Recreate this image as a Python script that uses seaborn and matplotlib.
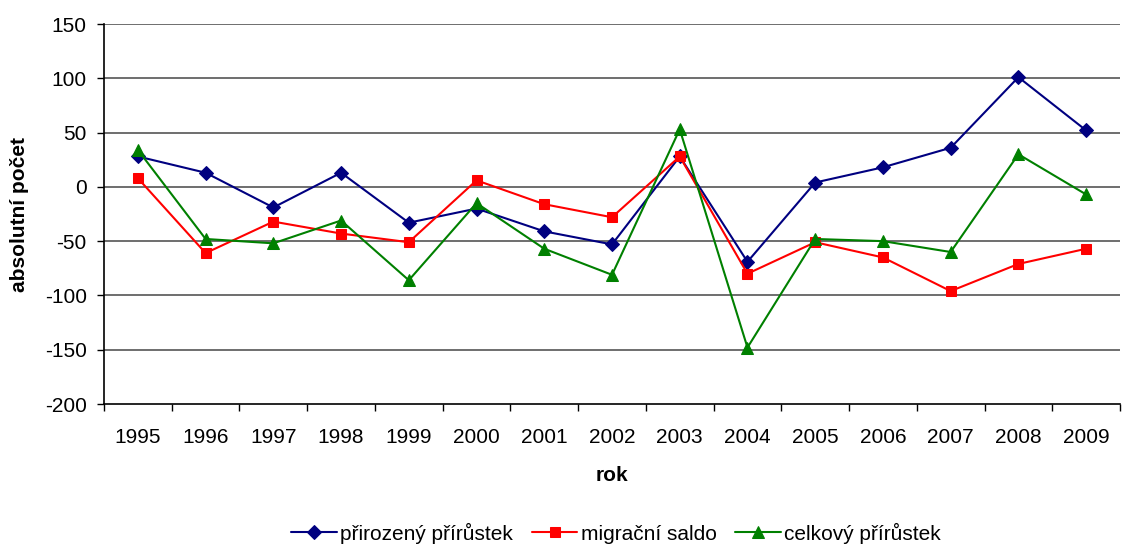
import matplotlib
matplotlib.use("Agg")
import matplotlib.pyplot as plt
import seaborn as sns
import pandas as pd
import numpy as np

years = ["1995", "1996", "1997", "1998", "1999", "2000", "2001", "2002",
         "2003", "2004", "2005", "2006", "2007", "2008", "2009"]
prirozeny = [28, 13, -19, 13, -33, -20, -41, -53, 28, -69, 4, 18, 36, 101, 52]
migracni = [8, -61, -32, -43, -51, 6, -16, -28, 28, -80, -51, -65, -96, -71, -57]
celkovy = [34, -48, -52, -31, -86, -15, -57, -81, 53, -148, -48, -50, -60, 30, -7]
series_names = ["přirozený přírůstek", "migrační saldo", "celkový přírůstek"]
yticks = [-200, -150, -100, -50, 0, 50, 100, 150]

sns.set_theme(style="white")
plt.rcParams['font.family'] = ['Liberation Sans', 'DejaVu Sans']
plt.rcParams.update({'text.color': 'black', 'axes.labelcolor': 'black',
                     'xtick.color': 'black', 'ytick.color': 'black'})

FS = 15
fig = plt.figure(figsize=(11.22, 5.45), dpi=100)
ax = fig.add_axes([104/1122, 1-404/545, (1120-104)/1122, 380/545])

pos = np.arange(len(years))
styles = [("#000080", "D", 7), ("#FF0000", "s", 7), ("#008000", "^", 8.5)]
for name, vals, (col, mk, ms) in zip(series_names, [prirozeny, migracni, celkovy], styles):
    df = pd.DataFrame({"x": pos, "y": vals})
    sns.lineplot(data=df, x="x", y="y", ax=ax, color=col, marker=mk, markersize=ms,
                 markeredgecolor=col, linewidth=1.5, label=name, zorder=3)

ax.set_xlim(-0.5, len(years) - 0.5)
ax.set_ylim(-200, 150)
ax.set_yticks(yticks)
ax.set_yticklabels([str(t) for t in yticks], fontsize=FS, color='black')
ax.set_xticks(pos)
ax.set_xticklabels(years, fontsize=FS, color='black')
ax.tick_params(axis='x', length=0, pad=17)
ax.tick_params(axis='y', length=5, width=1, color='black', direction='out', left=True, pad=7.5)
ax.set_xticks(np.arange(-0.5, len(years) + 0.5, 1), minor=True)
ax.tick_params(axis='x', which='minor', length=5, width=1, color='black', direction='out', bottom=True)

for t in yticks[1:]:
    ax.axhline(t, color='#555555', linewidth=1.2, zorder=1)

for s in ['top', 'right']:
    ax.spines[s].set_visible(False)
for s in ['left', 'bottom']:
    ax.spines[s].set_color('black')
    ax.spines[s].set_linewidth(1.2)

ax.set_xlabel("rok", fontsize=FS, fontweight='bold', labelpad=14, color='black')
ax.set_ylabel("absolutní počet", fontsize=FS, fontweight='bold', labelpad=11, color='black')

leg = ax.legend(loc='center', bbox_to_anchor=(616/1122, 1-533/545), bbox_transform=fig.transFigure,
                ncol=3, frameon=False, fontsize=FS, handlelength=2.2, handletextpad=0.15,
                columnspacing=0.9, borderaxespad=0)
for txt in leg.get_texts():
    txt.set_color('black')

fig.savefig("out.png", dpi=100)
